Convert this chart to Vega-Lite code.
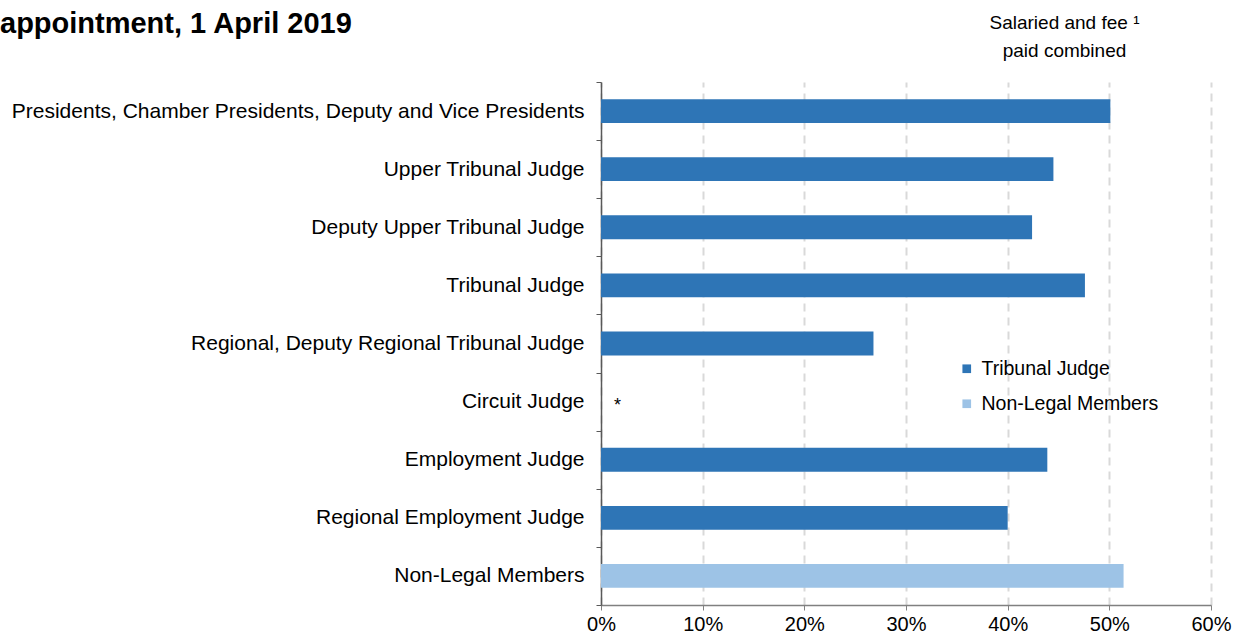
{
  "$schema": "https://vega.github.io/schema/vega-lite/v6.json",
  "autosize": {"type": "none"},
  "width": 610,
  "height": 523,
  "padding": {"left": 601, "top": 82, "right": 22, "bottom": 34},
  "background": "white",
  "config": {
    "font": "Liberation Sans",
    "view": {"stroke": null},
    "axis": {"labelFont": "Liberation Sans", "titleFont": "Liberation Sans"}
  },
  "title": {
    "text": "appointment, 1 April 2019",
    "anchor": "start",
    "frame": "group",
    "orient": "top",
    "dx": -601,
    "dy": 30,
    "fontSize": 29,
    "fontWeight": "bold",
    "font": "Liberation Sans",
    "color": "#000000"
  },
  "data": {
    "values": [
      {"role": "Presidents, Chamber Presidents, Deputy and Vice Presidents", "pct": 0.501, "type": "Tribunal Judge", "note": ""},
      {"role": "Upper Tribunal Judge", "pct": 0.445, "type": "Tribunal Judge", "note": ""},
      {"role": "Deputy Upper Tribunal Judge", "pct": 0.424, "type": "Tribunal Judge", "note": ""},
      {"role": "Tribunal Judge", "pct": 0.476, "type": "Tribunal Judge", "note": ""},
      {"role": "Regional, Deputy Regional Tribunal Judge", "pct": 0.268, "type": "Tribunal Judge", "note": ""},
      {"role": "Circuit Judge", "pct": null, "type": "Tribunal Judge", "note": "*"},
      {"role": "Employment Judge", "pct": 0.439, "type": "Tribunal Judge", "note": ""},
      {"role": "Regional Employment Judge", "pct": 0.400, "type": "Tribunal Judge", "note": ""},
      {"role": "Non-Legal Members", "pct": 0.514, "type": "Non-Legal Members", "note": ""}
    ]
  },
  "encoding": {
    "y": {
      "field": "role",
      "type": "nominal",
      "sort": ["Presidents, Chamber Presidents, Deputy and Vice Presidents", "Upper Tribunal Judge", "Deputy Upper Tribunal Judge", "Tribunal Judge", "Regional, Deputy Regional Tribunal Judge", "Circuit Judge", "Employment Judge", "Regional Employment Judge", "Non-Legal Members"],
      "scale": {"paddingInner": 0, "paddingOuter": 0},
      "axis": {
        "title": null,
        "labelFontSize": 21,
        "labelColor": "#000000",
        "labelLimit": 700,
        "labelPadding": 12,
        "tickBand": "extent",
        "tickSize": 5,
        "tickColor": "#595959",
        "domainColor": "#595959",
        "domainWidth": 1.5,
        "grid": false
      }
    }
  },
  "layer": [
    {
      "mark": {"type": "bar", "height": {"band": 0.41}},
      "encoding": {
        "x": {
          "field": "pct",
          "type": "quantitative",
          "scale": {"domain": [0, 0.6], "nice": false},
          "axis": {
            "title": null,
            "format": ".0%",
            "values": [0, 0.1, 0.2, 0.3, 0.4, 0.5, 0.6],
            "labelFontSize": 20,
            "labelColor": "#000000",
            "labelFlush": false,
            "labelPadding": 4,
            "tickSize": 5,
            "tickColor": "#808080",
            "domainColor": "#808080",
            "domainWidth": 1.5,
            "grid": true,
            "gridColor": "#d9d9d9",
            "gridWidth": 2,
            "gridDash": [8, 6]
          }
        },
        "color": {
          "field": "type",
          "type": "nominal",
          "scale": {"domain": ["Tribunal Judge", "Non-Legal Members"], "range": ["#2E75B6", "#9DC3E6"]},
          "legend": {
            "title": null,
            "orient": "none",
            "legendX": 356,
            "legendY": 277,
            "symbolType": "square",
            "symbolSize": 75,
            "symbolStrokeWidth": 0,
            "labelFontSize": 19.5,
            "labelLimit": 400,
            "labelColor": "#000000",
            "labelFont": "Liberation Sans",
            "labelOffset": 5,
            "rowPadding": 14
          }
        }
      }
    },
    {
      "mark": {"type": "text", "align": "left", "dx": 13, "dy": 4, "fontSize": 18, "color": "#000000"},
      "encoding": {
        "x": {
          "datum": 0,
          "type": "quantitative",
          "axis": {
            "orient": "top",
            "labels": false,
            "ticks": false,
            "domain": false,
            "grid": false,
            "title": ["Salaried and fee ¹", "paid combined"],
            "titleFontSize": 19,
            "titleFontWeight": "normal",
            "titleColor": "#000000",
            "titleX": 463,
            "titleY": -54,
            "titleAlign": "center",
            "titleBaseline": "alphabetic",
            "titleLineHeight": 28,
            "titleAngle": 0
          }
        },
        "text": {"field": "note"}
      }
    }
  ],
  "resolve": {"axis": {"x": "independent"}}
}
